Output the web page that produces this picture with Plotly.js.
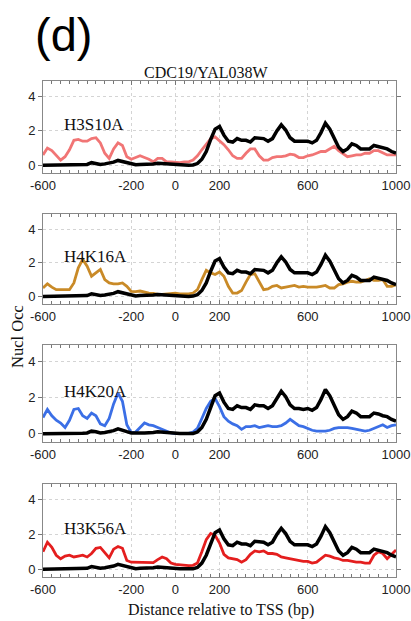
<!DOCTYPE html>
<html><head><meta charset="utf-8">
<script src="https://cdn.plot.ly/plotly-3.0.1.min.js"></script>
<style>html,body{margin:0;padding:0;background:#fff}#chart{width:411px;height:621px}</style>
</head><body><div id="chart"></div>
<script>
const distance = [-600,-580,-560,-540,-520,-500,-480,-460,-440,-420,-400,-380,-360,-340,-320,-300,-280,-260,-240,-220,-200,-180,-160,-140,-120,-100,-80,-60,-40,-20,0,20,40,60,80,100,120,140,160,180,200,220,240,260,280,300,320,340,360,380,400,420,440,460,480,500,520,540,560,580,600,620,640,660,680,700,720,740,760,780,800,820,840,860,880,900,920,940,960,980,1000];

const wildType = [0,0,0,0,0,0,0,0.02,0.02,0.03,0.05,0.15,0.12,0.05,0.08,0.12,0.18,0.28,0.22,0.12,0.05,0.03,0.05,0.05,0.05,0.08,0.12,0.1,0.05,0.03,0.02,0.02,0.02,0,0.02,0.1,0.35,0.8,1.5,2.1,2.25,1.75,1.4,1.35,1.55,1.45,1.45,1.35,1.6,1.55,1.55,1.4,1.55,2.0,2.35,2.05,1.6,1.4,1.4,1.35,1.4,1.3,1.45,1.9,2.45,2.1,1.6,1.05,0.8,0.95,1.25,1.15,0.95,0.95,0.95,1.15,1.1,1.0,0.95,0.8,0.7];

const h3s10a = [0.6,1.0,0.85,0.55,0.3,0.5,0.9,1.45,1.5,1.4,1.4,1.55,1.6,1.3,0.7,0.4,0.95,1.3,1.15,0.5,0.35,0.45,0.55,0.45,0.35,0.2,0.4,0.4,0.2,0.2,0.18,0.15,0.2,0.2,0.3,0.55,0.9,1.25,1.55,1.65,1.45,1.2,0.9,0.55,0.4,0.4,0.7,0.95,0.95,0.55,0.3,0.3,0.45,0.5,0.5,0.55,0.65,0.6,0.45,0.45,0.55,0.6,0.7,0.8,0.8,0.95,1.1,0.85,0.7,0.5,0.55,0.6,0.6,0.7,0.7,0.85,0.85,0.7,0.6,0.6,0.6];

const h4k16a = [0.5,0.75,0.55,0.4,0.4,0.42,0.4,0.8,1.7,2.2,1.8,1.2,1.4,1.6,1.0,0.8,0.75,0.75,0.8,0.6,0.3,0.28,0.32,0.25,0.2,0.18,0.12,0.12,0.15,0.18,0.2,0.15,0.15,0.15,0.2,0.4,1.0,1.55,1.4,1.3,1.45,1.2,0.6,0.2,0.2,0.35,0.85,1.3,1.35,0.9,0.4,0.45,0.6,0.65,0.5,0.55,0.6,0.65,0.55,0.6,0.55,0.55,0.55,0.6,0.65,0.5,0.5,0.7,0.75,0.85,0.9,0.85,0.85,0.95,1.05,0.95,0.95,1.0,0.6,0.6,0.7];

const h4k20a = [0.9,1.35,1.0,0.75,0.6,0.35,0.75,1.35,1.4,1.0,0.85,1.15,1.0,0.55,0.45,0.85,1.65,2.25,1.8,0.5,0.07,0.1,0.35,0.6,0.5,0.45,0.35,0.25,0.15,0.05,0.02,0.02,0.02,0.03,0.1,0.3,0.85,1.4,1.8,1.95,1.5,0.95,0.7,0.55,0.45,0.25,0.4,0.4,0.45,0.35,0.4,0.45,0.4,0.4,0.45,0.6,0.8,0.6,0.45,0.4,0.3,0.2,0.15,0.15,0.15,0.2,0.3,0.35,0.35,0.35,0.3,0.25,0.2,0.15,0.2,0.3,0.4,0.5,0.35,0.45,0.5];

const h3k56a = [1.0,1.55,1.25,0.8,0.6,0.75,0.8,0.7,0.75,0.8,0.7,0.9,1.2,1.25,0.95,0.65,1.15,1.3,1.2,0.5,0.4,0.4,0.4,0.4,0.38,0.38,0.55,0.7,0.6,0.35,0.28,0.25,0.2,0.2,0.22,0.35,1.0,1.7,2.05,1.95,1.5,0.85,0.65,0.6,0.55,0.4,0.55,0.85,1.05,1.0,1.05,0.9,0.9,0.85,0.7,0.65,0.6,0.55,0.5,0.45,0.45,0.35,0.4,0.6,0.8,0.75,0.65,0.6,0.5,0.5,0.45,0.4,0.4,0.35,0.35,0.8,1.0,0.9,0.6,0.85,1.1];

const mutantNames = ["H3S10A","H4K16A","H4K20A","H3K56A"];
const mutantSeries = [h3s10a, h4k16a, h4k20a, h3k56a];
const mutantColors = ["#f17575","#c98a27","#3b6fe6","#e41e1e"];
const xTickVals = [-600,-200,0,200,600,1000];
const xTickText = ["-600","-200","0","200","600","1000"];
const yTickVals = [0,2,4];
const yTickText = ["0","2","4"];

const domains = [[0.7214,0.8696],[0.5105,0.6554],[0.2882,0.4444],[0.0709,0.2206]];
const sans = "Liberation Sans, Arial, sans-serif";
const serif = "Liberation Serif, Times New Roman, serif";

const traces = [];
const layout = {
  width: 411, height: 621,
  margin: {l: 43, r: 15, t: 0, b: 0},
  paper_bgcolor: "#fff", plot_bgcolor: "#fff",
  showlegend: false,
  annotations: []
};

for (let i = 0; i < 4; i++) {
  const sfx = i === 0 ? "" : String(i + 1);
  traces.push({x: distance, y: mutantSeries[i], type: "scatter", mode: "lines",
    line: {color: mutantColors[i], width: 2.8}, xaxis: "x" + sfx, yaxis: "y" + sfx, hoverinfo: "skip"});
  traces.push({x: distance, y: wildType, type: "scatter", mode: "lines",
    line: {color: "#000", width: 3.5}, xaxis: "x" + sfx, yaxis: "y" + sfx, hoverinfo: "skip"});
  layout["xaxis" + sfx] = {
    anchor: "y" + sfx, domain: [0, 1], range: [-600, 1000],
    tickmode: "array", tickvals: xTickVals, ticktext: xTickText,
    ticks: "inside", ticklen: 4, tickcolor: "#777",
    minor: {dtick: 40, tick0: -600, ticks: "inside", ticklen: 3, tickcolor: "#777", showgrid: false},
    showline: true, linecolor: "#888", linewidth: 1, mirror: "allticks",
    showgrid: true, gridcolor: "#d4d4d4", griddash: "dot", gridwidth: 1,
    zeroline: false, tickfont: {family: sans, size: 13, color: "#222"}
  };
  layout["yaxis" + sfx] = {
    anchor: "x" + sfx, domain: domains[i], range: [-0.45, 4.9],
    tickmode: "array", tickvals: yTickVals, ticktext: yTickText,
    ticks: "outside", ticklen: 4, tickcolor: "#777",
    showline: true, linecolor: "#888", linewidth: 1, mirror: "allticks",
    showgrid: true, gridcolor: "#d4d4d4", griddash: "dot", gridwidth: 1,
    zeroline: false, tickfont: {family: sans, size: 13, color: "#222"}
  };
  layout.annotations.push({xref: "x" + sfx, yref: "y" + sfx, x: -515, y: 2.35,
    xanchor: "left", yanchor: "middle", showarrow: false, text: mutantNames[i],
    font: {family: serif, size: 17, color: "#111"}});
}

layout.annotations.push(
  {xref: "paper", yref: "paper", x: -0.028, y: 0.944, xanchor: "left", yanchor: "middle",
   showarrow: false, text: "(d)", font: {family: sans, size: 47, color: "#000"}},
  {xref: "paper", yref: "paper", x: 0.462, y: 0.884, xanchor: "center", yanchor: "middle",
   showarrow: false, text: "CDC19/YAL038W", font: {family: serif, size: 16, color: "#111"}},
  {xref: "paper", yref: "paper", x: -0.071, y: 0.459, xanchor: "center", yanchor: "middle",
   showarrow: false, textangle: -90, text: "Nucl Occ", font: {family: serif, size: 16.5, color: "#111"}},
  {xref: "paper", yref: "paper", x: 0.504, y: 0.018, xanchor: "center", yanchor: "middle",
   showarrow: false, text: "Distance relative to TSS (bp)", font: {family: serif, size: 16, color: "#111"}}
);

Plotly.newPlot("chart", traces, layout, {staticPlot: true, displayModeBar: false});
</script></body></html>
